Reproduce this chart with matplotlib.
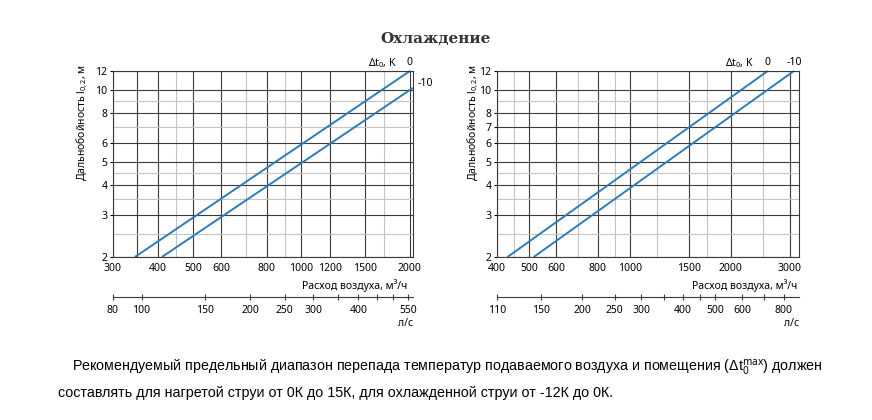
import numpy as np
import matplotlib
matplotlib.use("Agg")
import matplotlib.pyplot as plt
from matplotlib.ticker import NullFormatter, NullLocator

plt.rcParams['font.family'] = ['Noto Sans', 'DejaVu Sans']
plt.rcParams['mathtext.fontset'] = 'custom'
plt.rcParams['mathtext.rm'] = 'Noto Sans'
plt.rcParams['mathtext.it'] = 'Noto Sans:italic'

# ---- data ----
# left chart
left_xlim = (300, 2040)
left_q_0 = [345, 2000]        # dt0 = 0 K
left_l_0 = [2, 12]
left_q_m10 = [410, 2040]      # dt0 = -10 K
left_l_m10 = [2, 10.2]
left_xmajor = [300, 350, 400, 500, 600, 800, 1000, 1200, 1500, 2000]
left_xlabels = ['300', '', '400', '500', '600', '800', '1000', '1200', '1500', '2000']
left_xminor = [450, 700, 900, 1700]
left_ymajor = [2, 3, 4, 5, 6, 8, 10, 12]
left_yminor = [2.5, 3.5, 4.5, 7, 9]
left_ls = [80, 100, 150, 200, 250, 300, 350, 400, 450, 500, 550]
left_ls_labels = ['80', '100', '150', '200', '250', '300', '', '400', '', '', '550']

# right chart
right_xlim = (400, 3200)
right_q_0 = [430, 2580]
right_l_0 = [2, 12]
right_q_m10 = [515, 3090]
right_l_m10 = [2, 12]
right_xmajor = [400, 500, 600, 800, 1000, 1500, 2000, 3000]
right_xlabels = ['400', '500', '600', '800', '1000', '1500', '2000', '3000']
right_xminor = [450, 700, 900, 1200, 1700, 2500]
right_ymajor = [2, 3, 4, 5, 6, 7, 8, 10, 12]
right_yminor = [2.5, 3.5, 4.5, 9]
right_ls = [110, 150, 200, 250, 300, 350, 400, 450, 500, 600, 700, 800]
right_ls_labels = ['110', '150', '200', '250', '300', '', '400', '', '500', '600', '', '800']

blue = '#2e7bb8'
dark = '#3a3a3a'
light = '#c4c4c4'
fs = 7.5


def panel(ax, xlim, xmajor, xlabels, xminor, ymajor, yminor, ls, ls_labels,
          lines, ylab_x, lab_right):
    ax.set_xscale('log')
    ax.set_yscale('log')
    ax.set_xlim(xlim)
    ax.set_ylim(2, 12)
    ax.set_xticks(xmajor, labels=xlabels)
    ax.set_xticks(xminor, minor=True)
    ax.set_yticks(ymajor, labels=[str(v) for v in ymajor])
    ax.set_yticks(yminor, minor=True)
    ax.xaxis.set_minor_formatter(NullFormatter())
    ax.yaxis.set_minor_formatter(NullFormatter())
    ax.tick_params(which='both', length=0, labelsize=fs)
    ax.tick_params(axis='x', which='major', pad=4.5)
    ax.tick_params(axis='y', which='major', length=2, pad=2)
    ax.grid(which='major', color=dark, lw=0.8)
    ax.grid(which='minor', color=light, lw=0.8)
    ax.set_axisbelow(True)
    for s in ax.spines.values():
        s.set_color(dark)
        s.set_linewidth(0.8)

    for q, l in lines:
        ax.plot(q, l, color=blue, lw=1.4, solid_capstyle='butt', clip_on=False)

    ax.text(ylab_x, 1.035, r'Дальнобойность l$_{0,2}$, м', rotation=90,
            transform=ax.transAxes, ha='center', va='top', fontsize=fs)
    ax.text(lab_right, -0.156, 'Расход воздуха, м³/ч', transform=ax.transAxes,
            ha='right', va='center', fontsize=fs)
    ax.text(1.0, -0.355, 'л/с', transform=ax.transAxes, ha='right',
            va='center', fontsize=fs)

    # l/s axis underneath
    sec = ax.secondary_xaxis(-0.215, functions=(lambda q: q / 3.6, lambda v: v * 3.6))
    pos = np.clip(ls, xlim[0] / 3.6, xlim[1] / 3.6)
    sec.set_xticks(pos, labels=ls_labels)
    sec.xaxis.set_minor_locator(NullLocator())
    sec.tick_params(direction='inout', length=5, width=0.8, color=dark,
                    labelsize=fs, pad=3)
    sec.spines['bottom'].set_color(dark)
    sec.spines['bottom'].set_linewidth(0.8)
    return sec


fig = plt.figure(figsize=(8.72, 4.2), dpi=100)

ax1 = fig.add_axes([113 / 872, 1 - 257 / 420, 300 / 872, 186 / 420])
panel(ax1, left_xlim, left_xmajor, left_xlabels, left_xminor, left_ymajor,
      left_yminor, left_ls, left_ls_labels,
      [(left_q_0, left_l_0), (left_q_m10, left_l_m10)], -0.103, 0.98)
ax1.annotate('0', (left_q_0[-1], left_l_0[-1]), xytext=(0, 6), textcoords='offset points',
             ha='center', va='center', fontsize=fs)
ax1.annotate(r'$\Delta$t$_0$, K', (left_q_0[-1], left_l_0[-1]), xytext=(-9, 6),
             textcoords='offset points', ha='right', va='center', fontsize=fs)
ax1.annotate('-10', (left_q_m10[-1], left_l_m10[-1]), xytext=(3, 3),
             textcoords='offset points', ha='left', va='center', fontsize=fs)

ax2 = fig.add_axes([497 / 872, 1 - 257 / 420, 302 / 872, 186 / 420])
panel(ax2, right_xlim, right_xmajor, right_xlabels, right_xminor, right_ymajor,
      right_yminor, right_ls, right_ls_labels,
      [(right_q_0, right_l_0), (right_q_m10, right_l_m10)], -0.08, 0.993)
ax2.annotate('0', (right_q_0[-1], right_l_0[-1]), xytext=(0, 6), textcoords='offset points',
             ha='center', va='center', fontsize=fs)
ax2.annotate(r'$\Delta$t$_0$, K', (right_q_0[-1], right_l_0[-1]), xytext=(-10, 6),
             textcoords='offset points', ha='right', va='center', fontsize=fs)
ax2.annotate('-10', (right_q_m10[-1], right_l_m10[-1]), xytext=(0, 6),
             textcoords='offset points', ha='center', va='center', fontsize=fs)

fig.text(0.5, 1 - 39 / 420, 'Охлаждение', ha='center', va='center',
         fontsize=11, fontweight='bold', family=['DejaVu Serif'], color='#333333')

para = ['Liberation Sans', 'DejaVu Sans']
fig.text(72 / 872, 1 - 368 / 420,
         'Рекомендуемый предельный диапазон перепада температур подаваемого воздуха '
         r'и помещения (Δt$_0^{\rm max}$) должен',
         ha='left', va='center', fontsize=10.3, family=para)
fig.text(58 / 872, 1 - 393 / 420,
         'составлять для нагретой струи от 0К до 15К, для охлажденной струи от -12К до 0К.',
         ha='left', va='center', fontsize=10.3, family=para)

fig.savefig('out.png', dpi=100)
